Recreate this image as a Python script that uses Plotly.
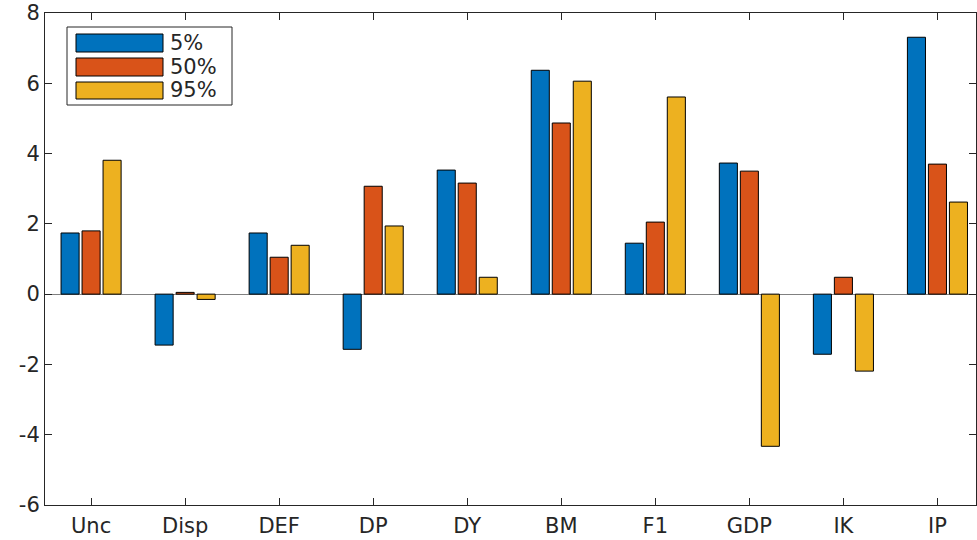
import plotly.graph_objects as go

categories = ["Unc", "Disp", "DEF", "DP", "DY", "BM", "F1", "GDP", "IK", "IP"]
series_names = ["5%", "50%", "95%"]
q05 = [1.74, -1.45, 1.74, -1.57, 3.53, 6.37, 1.45, 3.73, -1.71, 7.31]
q50 = [1.80, 0.05, 1.05, 3.07, 3.16, 4.87, 2.05, 3.50, 0.48, 3.70]
q95 = [3.81, -0.15, 1.39, 1.94, 0.48, 6.06, 5.61, -4.33, -2.19, 2.62]
colors = ["#0072BD", "#D95319", "#EDB120"]
yticks = [-6, -4, -2, 0, 2, 4, 6, 8]

W, H = 977, 540
ml, mr, mt, mb = 45, 1, 13, 35
pw, ph = W - ml - mr, H - mt - mb

x = list(range(1, len(categories) + 1))
fig = go.Figure()
for name, vals, c in zip(series_names, [q05, q50, q95], colors):
    fig.add_trace(go.Bar(x=x, y=vals, name=name, marker=dict(color=c, line=dict(color="#000000", width=1)),
                         showlegend=False))

axis_col = "#262626"
font = dict(family="DejaVu Sans, Arial, sans-serif", size=21, color="#262626")
fig.update_layout(
    width=W, height=H, margin=dict(l=ml, r=mr, t=mt, b=mb),
    paper_bgcolor="white", plot_bgcolor="white",
    barmode="group", bargap=0.33, bargroupgap=0.14,
    font=font,
    xaxis=dict(range=[0.51, 10.41], tickmode="array", tickvals=x, ticktext=categories,
               ticks="inside", ticklen=7, tickcolor=axis_col, showline=True, linecolor=axis_col,
               linewidth=1, mirror="ticks", showgrid=False, zeroline=False, tickfont=font,
               ticklabelstandoff=2),
    yaxis=dict(range=[-6, 8], tickmode="array", tickvals=yticks, ticktext=[str(v) for v in yticks],
               ticks="inside", ticklen=7, tickcolor=axis_col, showline=True, linecolor=axis_col,
               linewidth=1, mirror="ticks", showgrid=False, zeroline=True, zerolinecolor="#808080",
               zerolinewidth=1, tickfont=font),
)

def px(xp):
    return (xp - ml) / pw

def py(yp):
    return (H - mb - yp) / ph

shapes = [dict(type="rect", xref="paper", yref="paper", x0=px(67), x1=px(232), y0=py(105), y1=py(27),
               line=dict(color=axis_col, width=1), fillcolor="white", layer="above")]
annotations = []
rows = [(34, 52), (58, 76), (82, 99)]
for (t, b), c, name in zip(rows, colors, series_names):
    shapes.append(dict(type="rect", xref="paper", yref="paper", x0=px(76), x1=px(163), y0=py(b), y1=py(t),
                       line=dict(color="#000000", width=1), fillcolor=c, layer="above"))
    annotations.append(dict(xref="paper", yref="paper", x=px(168), y=py((t + b) / 2), text=name,
                            showarrow=False, xanchor="left", yanchor="middle", font=font))
fig.update_layout(shapes=shapes, annotations=annotations)

fig.write_html("out.html")
